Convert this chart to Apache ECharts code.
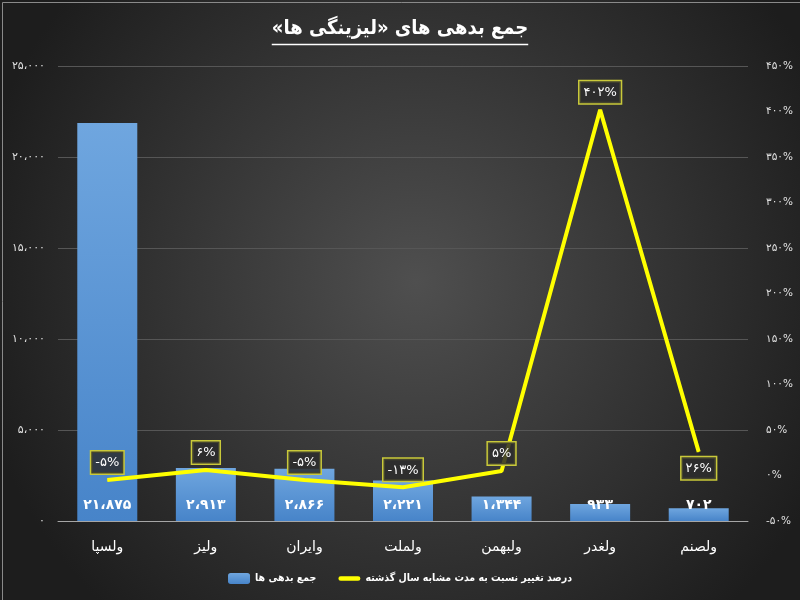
<!DOCTYPE html>
<html>
<head>
<meta charset="utf-8">
<script src="https://cdn.jsdelivr.net/npm/echarts@6/dist/echarts.min.js"></script>
<style>
html,body{margin:0;padding:0;background:#2a2a2a;}
#chart{width:800px;height:600px;}
</style>
</head>
<body>
<div id="chart"></div>
<script>
const titleText = 'جمع بدهی های «لیزینگی ها»';
const categories = ['ولسپا', 'ولیز', 'وایران', 'ولملت', 'ولبهمن', 'ولغدر', 'ولصنم'];
const debtValues = [21875, 2913, 2866, 2221, 1344, 933, 702];
const changeValues = [-5, 6, -5, -13, 5, 402, 26];
const debtName = 'جمع بدهی ها';
const changeName = 'درصد تغییر نسبت به مدت مشابه سال گذشته';
const leftAxisRange = {min: 0, max: 25000, interval: 5000};
const rightAxisRange = {min: -50, max: 450, interval: 50};

const FONT = '"DejaVu Sans", sans-serif';
const FONT_C = '"DejaVu Sans Condensed", "DejaVu Sans", sans-serif';
const faDigits = '۰۱۲۳۴۵۶۷۸۹';
function fa(str) {
  return String(str).replace(/[0-9]/g, d => faDigits[+d]);
}
function faThousands(v) {
  const s = String(Math.round(Math.abs(v))).replace(/\B(?=(\d{3})+(?!\d))/g, '،');
  return (v < 0 ? '-' : '') + fa(s);
}
function faPct(v) {
  return (v < 0 ? '-' : '') + fa(Math.abs(v)) + '%';
}

const chart = echarts.init(document.getElementById('chart'), null, {renderer: 'canvas'});

const rtlTitle = '\u200F' + titleText + '\u200F';
const titleFont = 'bold 20px ' + FONT_C;
const mc = document.createElement('canvas').getContext('2d');
mc.font = titleFont;
const titleW = mc.measureText(rtlTitle).width;

const option = {
  backgroundColor: {
    type: 'radial', x: 0.52, y: 0.47, r: 0.75,
    colorStops: [{offset: 0, color: '#4f4f4f'}, {offset: 1, color: '#1d1d1d'}]
  },
  textStyle: {fontFamily: FONT},
  graphic: [
    {
      type: 'text', left: 'center', top: 19,
      style: {text: rtlTitle, font: titleFont, fill: '#ffffff'}
    },
    {
      type: 'line',
      shape: {x1: 400 - titleW / 2, y1: 44.5, x2: 400 + titleW / 2, y2: 44.5},
      style: {stroke: '#ffffff', lineWidth: 1.5}
    },
    {
      type: 'rect', left: 0, top: 0,
      shape: {x: 0.5, y: 0.5, width: 799, height: 599},
      style: {fill: 'none', stroke: '#8a8a8a', lineWidth: 1},
      silent: true
    }
  ],
  grid: {left: 58, right: 52, top: 66, bottom: 79},
  legend: {
    bottom: 11, left: 'center',
    itemWidth: 22, itemHeight: 11, itemGap: 22,
    textStyle: {color: '#ffffff', fontSize: 10.5, fontWeight: 'bold', fontFamily: FONT_C},
    data: [
      {name: debtName},
      {name: changeName, icon: 'path://M2.5,0 L21.5,0 A2.5,2.5 0 0 1 21.5,5 L2.5,5 A2.5,2.5 0 0 1 2.5,0 Z'}
    ]
  },
  xAxis: {
    type: 'category',
    data: categories,
    axisLine: {lineStyle: {color: '#a6a6a6', width: 1}},
    axisTick: {show: false},
    axisLabel: {color: '#ffffff', fontSize: 14, margin: 19, fontFamily: FONT}
  },
  yAxis: [
    {
      type: 'value',
      min: leftAxisRange.min, max: leftAxisRange.max, interval: leftAxisRange.interval,
      axisLine: {show: false}, axisTick: {show: false},
      splitLine: {lineStyle: {color: '#565656', width: 1}},
      axisLabel: {color: '#e0e0e0', fontSize: 11, margin: 13, formatter: v => faThousands(v)}
    },
    {
      type: 'value',
      min: rightAxisRange.min, max: rightAxisRange.max, interval: rightAxisRange.interval,
      axisLine: {show: false}, axisTick: {show: false},
      splitLine: {show: false},
      axisLabel: {color: '#e0e0e0', fontSize: 10.5, margin: 18, formatter: v => faPct(v)}
    }
  ],
  series: [
    {
      name: debtName,
      type: 'bar',
      yAxisIndex: 0,
      barWidth: 60,
      data: debtValues,
      itemStyle: {
        color: {
          type: 'linear', x: 0, y: 0, x2: 0, y2: 1,
          colorStops: [{offset: 0, color: '#6fa6df'}, {offset: 1, color: '#4784c9'}]
        }
      },
      label: {
        show: true, position: 'insideBottom', distance: 9,
        color: '#ffffff', fontSize: 14, fontWeight: 'bold', fontFamily: FONT,
        formatter: p => faThousands(p.value)
      },
      z: 2
    },
    {
      name: changeName,
      type: 'line',
      yAxisIndex: 1,
      data: changeValues.map((v, i) => i === changeValues.length - 1
        ? {value: v, label: {position: 'bottom', distance: 5}}
        : {value: v}),
      smooth: false,
      symbol: 'circle', symbolSize: 1,
      itemStyle: {color: '#ffff00'},
      lineStyle: {color: '#ffff00', width: 4},
      label: {
        show: true, position: 'top', distance: 6,
        color: '#ffffff', fontSize: 13, fontFamily: FONT,
        backgroundColor: 'rgba(45,45,45,0.85)',
        borderColor: '#c9c93a', borderWidth: 1.5,
        padding: [5, 4, 4, 4],
        formatter: p => faPct(p.value)
      },
      z: 5
    }
  ]
};
chart.setOption(option);
</script>
</body>
</html>
